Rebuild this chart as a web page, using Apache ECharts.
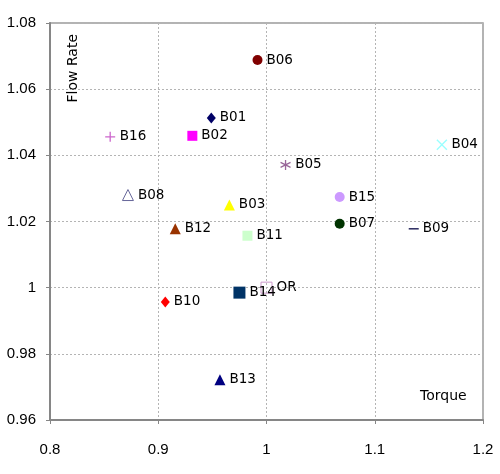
<!DOCTYPE html>
<html>
<head>
<meta charset="utf-8">
<script src="https://cdn.jsdelivr.net/npm/echarts@6/dist/echarts.min.js"></script>
<style>html,body{margin:0;padding:0;background:#fff}#c{width:500px;height:474px}</style>
</head>
<body>
<div id="c"></div>
<script>
var names = ['B01','B02','B03','B04','B05','B06','B07','B08','B09','B10','B11','B12','B13','B14','B15','B16','OR'];
var torque = [0.949,0.9315,0.9657,1.162,1.0176,0.9917,1.0676,0.872,1.136,0.9065,0.9824,0.9157,0.957,0.975,1.0676,0.8556,1.0];
var flowRate = [1.0513,1.0459,1.025,1.0432,1.0371,1.0688,1.0193,1.028,1.0178,0.9957,1.0157,1.0178,0.9722,0.9985,1.0274,1.0456,1.0];
var xTicks = [0.8,0.9,1.0,1.1,1.2];
var yTicks = [0.96,0.98,1.00,1.02,1.04,1.06,1.08];

var PLUS = 'path://M0,5L10,5M5,0L5,10';
var CROSS = 'path://M0,0L10,10M10,0L0,10';
var STAR = 'path://M5,0L5,10M0.7,2.5L9.3,7.5M9.3,2.5L0.7,7.5';
var styles = {
  B01:{symbol:'diamond',size:[9,11],color:'#000066'},
  B02:{symbol:'rect',size:10,color:'#ff00ff'},
  B03:{symbol:'triangle',size:11,color:'#ffff00'},
  B04:{symbol:CROSS,size:10,stroke:'#99ffff'},
  B05:{symbol:STAR,size:10,stroke:'#996699'},
  B06:{symbol:'circle',size:10,color:'#800000'},
  B07:{symbol:'circle',size:10,color:'#003300'},
  B08:{symbol:'triangle',size:11,stroke:'#666699',hollow:true},
  B09:{symbol:'rect',size:[10,1.6],color:'#333366'},
  B10:{symbol:'diamond',size:[9,11],color:'#ff0000'},
  B11:{symbol:'rect',size:10,color:'#ccffcc'},
  B12:{symbol:'triangle',size:11,color:'#993300'},
  B13:{symbol:'triangle',size:11,color:'#000080'},
  B14:{symbol:'rect',size:12,color:'#003366'},
  B15:{symbol:'circle',size:10,color:'#cc99ff'},
  B16:{symbol:PLUS,size:10,stroke:'#cc66cc'},
  OR:{symbol:'rect',size:11,stroke:'#cc99cc',hollow:true}
};

var series = names.map(function(n,i){
  var s = styles[n];
  var item;
  if (s.stroke) {
    item = {color: 'rgba(255,255,255,0)', borderColor: s.stroke, borderWidth: s.hollow ? 1 : 1.3, opacity: 1};
  } else {
    item = {color: s.color, opacity: 1};
  }
  return {
    type:'scatter', name:n, symbol:s.symbol, symbolSize:s.size,
    itemStyle:item,
    label:{show:true, position:'right', distance:4, formatter:n,
      fontFamily:'DejaVu Sans', fontSize:13.5, color:'#000', opacity:1,
      textBorderWidth:0, textBorderColor:'transparent'},
    data:[[torque[i], flowRate[i]]],
    z: n==='OR' ? 1 : 2
  };
});

var chart = echarts.init(document.getElementById('c'), null, {renderer:'canvas'});
chart.setOption({
  animation:false,
  grid:{left:50,right:17,top:23,bottom:54,show:true,borderColor:'#9a9a9a',borderWidth:1.5,backgroundColor:'transparent'},
  xAxis:{type:'value',min:0.8,max:1.2,interval:0.1,
    axisLine:{show:true,onZero:false,lineStyle:{color:'#868686',width:2}},
    axisTick:{show:true,length:4,lineStyle:{color:'#868686'}},
    axisLabel:{margin:22,color:'#000',fontFamily:'Liberation Sans',fontSize:15,
      formatter:function(v){var t=xTicks.find(function(a){return Math.abs(a-v)<1e-9});return t===undefined?'':String(+t.toFixed(2));}},
    splitLine:{show:true,lineStyle:{type:[2,2],color:'#b4b4b4'}}
  },
  yAxis:{type:'value',min:0.96,max:1.08,interval:0.02,
    axisLine:{show:true,onZero:false,lineStyle:{color:'#868686',width:2}},
    axisTick:{show:true,length:4,lineStyle:{color:'#868686'}},
    axisLabel:{margin:14,color:'#000',fontFamily:'Liberation Sans',fontSize:15,
      formatter:function(v){var t=yTicks.find(function(a){return Math.abs(a-v)<1e-9});return t===undefined?'':String(+t.toFixed(2));}},
    splitLine:{show:true,lineStyle:{type:[2,2],color:'#b4b4b4'}}
  },
  graphic:[
    {type:'text',left:66,top:34,rotation:Math.PI/2,
      style:{text:'Flow Rate',font:'14px "DejaVu Sans"',fill:'#000'}},
    {type:'text',left:420,top:389,
      style:{text:'Torque',font:'14px "DejaVu Sans"',fill:'#000'}}
  ],
  series:series
});
</script>
</body>
</html>
